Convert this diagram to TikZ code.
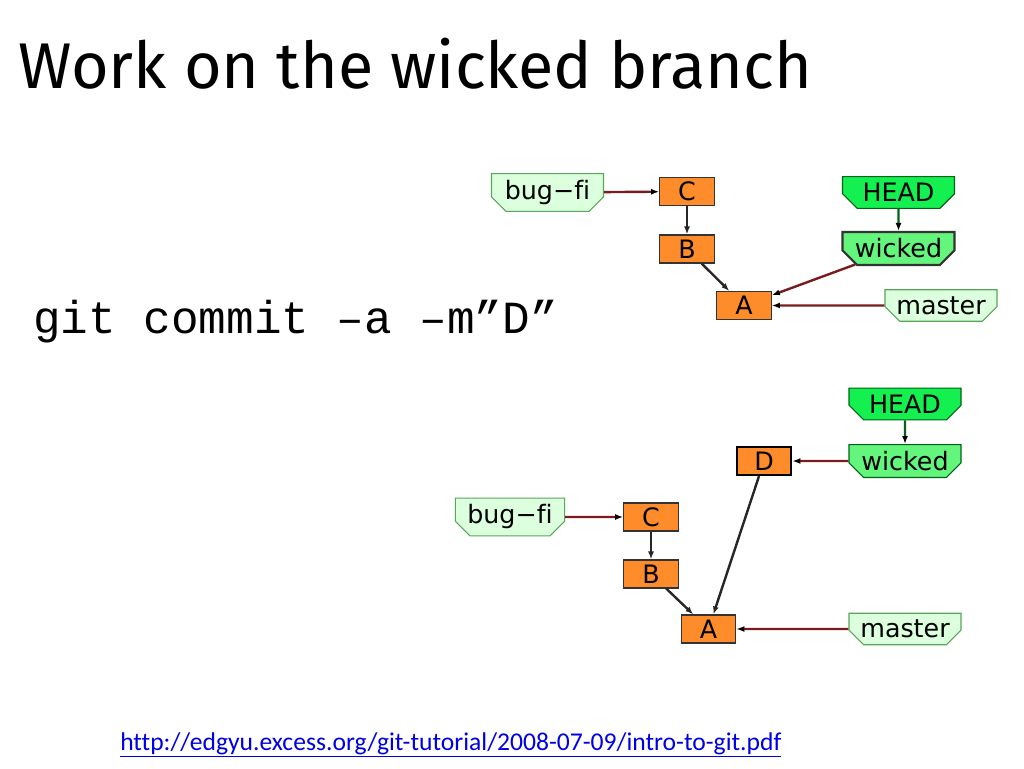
\documentclass[tikz,border=0pt]{standalone}
\usepackage{fontspec}
\usetikzlibrary{shapes.misc,arrows.meta}
\setmainfont{Fira Sans}
\newfontfamily\tagfont[Ligatures=CommonOff]{DejaVu Sans}
\newfontfamily\cmdfont{Liberation Mono}
\newfontfamily\linkfont[Ligatures=CommonOff]{Carlito}
\definecolor{commitorange}{RGB}{255,140,42}
\definecolor{reflight}{RGB}{220,255,222}
\definecolor{headgreen}{RGB}{20,240,80}
\definecolor{branchgreen}{RGB}{100,245,125}
\definecolor{refline}{RGB}{120,28,32}
\definecolor{headline}{RGB}{0,100,20}
\definecolor{linkblue}{RGB}{0,0,230}

\tikzset{
  commit/.style={draw=black!80, fill=commitorange, line width=0.8pt,
    minimum width=41pt, minimum height=21pt, inner sep=0pt,
    font=\tagfont\fontsize{19}{19}\selectfont},
  reftag/.style={chamfered rectangle, chamfered rectangle corners={south west,south east},
    chamfered rectangle xsep=6pt, chamfered rectangle ysep=5pt,
    draw=gray!70!green, fill=reflight, line width=0.8pt,
    minimum width=84pt, minimum height=11pt, inner sep=0pt,
    font=\tagfont\fontsize{19}{19}\selectfont},
  headtag/.style={reftag, fill=headgreen, draw=headline},
  branchtag/.style={reftag, fill=branchgreen, draw=headline},
  parent/.style={-{Latex[length=6pt,width=4.5pt]}, line width=1.8pt, black!85},
  refarrow/.style={-{Latex[length=6pt,width=4.5pt,black]}, line width=1.8pt, refline},
  headarrow/.style={-{Latex[length=6pt,width=4.5pt,black]}, line width=1.8pt, headline}
}

\begin{document}
\begin{tikzpicture}[x=0.75pt,y=-0.75pt]
    \useasboundingbox[fill=white] (0,0) rectangle (1024,768);

    % texts
    \node[anchor=base west, inner sep=0pt, font=\fontsize{48.5}{48.5}\selectfont] (title) at (18,88) {Work on the wicked branch};
    \node[anchor=base west, inner sep=0pt, font=\cmdfont\fontsize{34.5}{34.5}\selectfont] (cmd) at (33,333) {git commit –a –m”D”};
    \node[anchor=base west, inner sep=0pt, font=\linkfont\fontsize{19.2}{19.2}\selectfont, text=linkblue] (link) at (120,750) {\underline{http://edgyu.excess.org/git-tutorial/2008-07-09/intro-to-git.pdf}};

    % before the commit
    \node[reftag] (bugfiA) at (547.5,192.5) {bug−fi};
    \node[commit] (cA) at (687,191.5) {C};
    \node[commit] (bA) at (687,249) {B};
    \node[commit] (aA) at (744,305.5) {A};
    \node[headtag] (headA) at (898.5,192.5) {HEAD};
    \node[branchtag, line width=1.6pt, draw=black!80] (wickedA) at (898.5,248.5) {wicked};
    \node[reftag] (masterA) at (941,305.5) {master};

    \draw[refarrow] (bugfiA) -- (cA);
    \draw[parent] (cA) -- (bA);
    \draw[parent] (bA) -- (aA);
    \draw[headarrow] (headA) -- (wickedA);
    \draw[refarrow] (wickedA) -- (aA);
    \draw[refarrow] (masterA) -- (aA);

    % after the commit
    \node[headtag] (headB) at (905,404) {HEAD};
    \node[branchtag] (wickedB) at (905,461) {wicked};
    \node[commit, line width=1.6pt, draw=black] (dB) at (764,461) {D};
    \node[reftag, minimum width=82pt] (bugfiB) at (510,517) {bug−fi};
    \node[commit] (cB) at (651,517) {C};
    \node[commit] (bB) at (651,574) {B};
    \node[commit] (aB) at (708.5,629) {A};
    \node[reftag] (masterB) at (905,629) {master};

    \draw[headarrow] (headB) -- (wickedB);
    \draw[refarrow] (wickedB) -- (dB);
    \draw[parent] (dB) -- (aB);
    \draw[refarrow] (bugfiB) -- (cB);
    \draw[parent] (cB) -- (bB);
    \draw[parent] (bB) -- (aB);
    \draw[refarrow] (masterB) -- (aB);
\end{tikzpicture}
\end{document}
